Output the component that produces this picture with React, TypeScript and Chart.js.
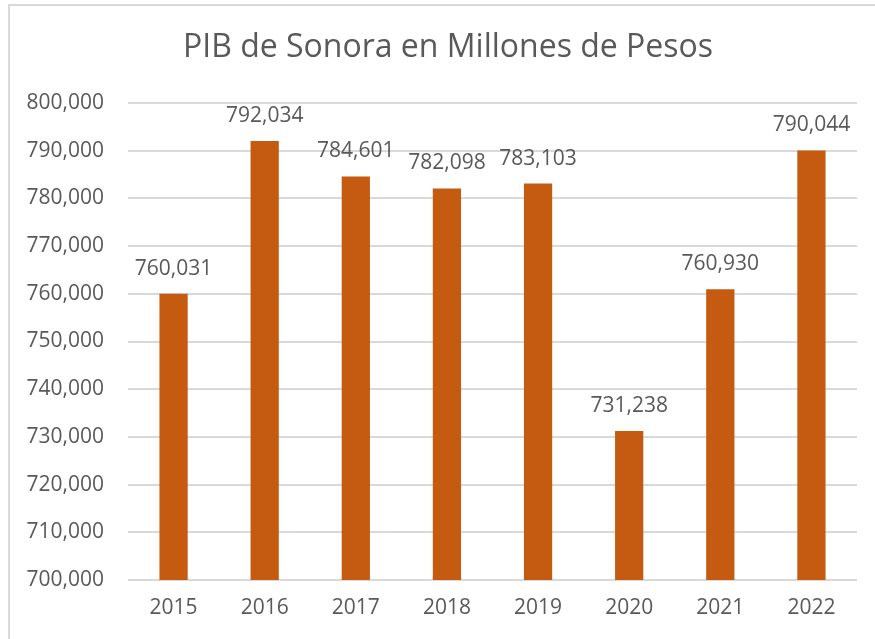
import React, { useEffect, useRef } from "react";
import { Chart, registerables } from "chart.js";

Chart.register(...registerables);

const TITLE = "PIB de Sonora en Millones de Pesos";
const YEARS = ["2015", "2016", "2017", "2018", "2019", "2020", "2021", "2022"];
const PIB = [760031, 792034, 784601, 782098, 783103, 731238, 760930, 790044];
const Y_MIN = 700000;
const Y_MAX = 800000;
const Y_STEP = 10000;

const TEXT = "#595959";
const BAR = "#C55A11";
const GRID = "#D9D9D9";
const FONT = "'Open Sans', sans-serif";

const fmt = (v: number) => v.toLocaleString("en-US");

const labelPlugin = {
  id: "barLabels",
  afterDatasetsDraw(chart: any) {
    const ctx = chart.ctx;
    const meta = chart.getDatasetMeta(0);
    ctx.save();
    ctx.fillStyle = TEXT;
    ctx.font = `21px ${FONT}`;
    ctx.textAlign = "center";
    ctx.textBaseline = "middle";
    meta.data.forEach((bar: any, i: number) => {
      ctx.fillText(fmt(PIB[i]), bar.x, bar.y - 25);
    });
    ctx.restore();
  },
};

const titlePlugin = {
  id: "centerTitle",
  afterDraw(chart: any) {
    const ctx = chart.ctx;
    ctx.save();
    ctx.fillStyle = TEXT;
    ctx.font = `32px ${FONT}`;
    ctx.textAlign = "center";
    ctx.textBaseline = "middle";
    ctx.fillText(TITLE, 448, 48);
    ctx.restore();
  },
};

export default function App() {
  const ref = useRef<HTMLCanvasElement>(null);
  useEffect(() => {
    if (!ref.current) return;
    const chart = new Chart(ref.current, {
      type: "bar",
      data: {
        labels: YEARS,
        datasets: [
          {
            data: PIB,
            backgroundColor: BAR,
            barPercentage: 0.31,
            categoryPercentage: 1,
          },
        ],
      },
      options: {
        animation: false,
        responsive: false,
        layout: { padding: { left: 0, right: 18, top: 103, bottom: 0 } },
        plugins: {
          legend: { display: false },
          tooltip: { enabled: false },
          title: { display: false },
        },
        scales: {
          x: {
            grid: { display: false, drawTicks: false },
            border: { display: false },
            ticks: { color: TEXT, font: { family: FONT, size: 21 }, padding: 15 },
            afterFit: (s: any) => {
              s.height = 59;
            },
          },
          y: {
            min: Y_MIN,
            max: Y_MAX,
            grid: { color: GRID, lineWidth: 2, drawTicks: false },
            border: { display: false },
            ticks: {
              stepSize: Y_STEP,
              color: TEXT,
              font: { family: FONT, size: 21 },
              padding: 24,
              callback: (v: any) => fmt(Number(v)),
            },
            afterFit: (s: any) => {
              s.width = 128;
            },
          },
        },
      },
      plugins: [labelPlugin, titlePlugin],
    });
    return () => chart.destroy();
  }, []);

  return (
    <div style={{ position: "fixed", left: 0, top: 0, width: 875, height: 639, background: "#fff" }}>
      <canvas ref={ref} width={875} height={639} style={{ position: "absolute", left: 0, top: 0 }} />
      <div
        style={{
          position: "absolute",
          left: 8,
          top: 4,
          width: 900,
          height: 700,
          borderTop: "2px solid #D9D9D9",
          borderLeft: "2px solid #D9D9D9",
          pointerEvents: "none",
        }}
      />
    </div>
  );
}
